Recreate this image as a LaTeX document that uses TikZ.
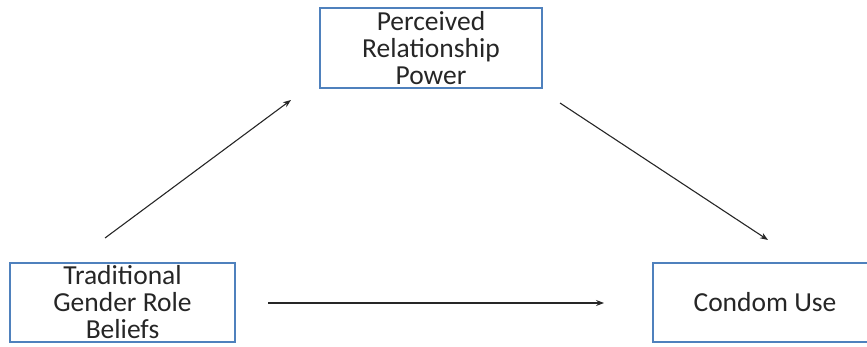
\documentclass[tikz,border=0pt]{standalone}
\usepackage{fontspec}
\setmainfont{Carlito}
\usetikzlibrary{arrows.meta}
\definecolor{boxblue}{RGB}{79,129,189}
\begin{document}
\begin{tikzpicture}[x=1pt, y=-1pt, >={Stealth[length=8pt, width=6pt]},
    varbox/.style={draw=boxblue, line width=2.4pt, fill=white, align=center,
        font=\fontsize{27.5}{27}\selectfont, text=black!85, inner sep=0pt},
    path/.style={->, line width=1.1pt, black!85}]
    \useasboundingbox (0,0) rectangle (867,347);
    % Variabili
    \node[varbox, minimum width=222pt, minimum height=80pt] (prp) at (431,48) {Perceived\\Relationship\\Power};
    \node[varbox, minimum width=225pt, minimum height=79pt] (tgrb) at (122.5,302.5) {Traditional\\Gender Role\\Beliefs};
    \node[varbox, minimum width=224pt, minimum height=79pt] (cu) at (765,302.5) {Condom Use};
    % Estremi delle frecce
    \coordinate (a1) at (105,238);
    \coordinate (a2) at (291,100);
    \coordinate (b1) at (560,103);
    \coordinate (b2) at (768,240);
    \coordinate (c1) at (268,303);
    \coordinate (c2) at (604,303);
    % Frecce
    \draw[path] (a1) -- (a2);
    \draw[path] (b1) -- (b2);
    \draw[path] (c1) -- (c2);
\end{tikzpicture}
\end{document}
